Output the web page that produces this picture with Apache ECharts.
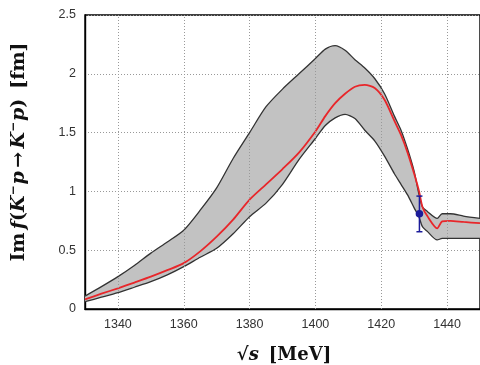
<!DOCTYPE html>
<html><head><meta charset="utf-8">
<script src="https://cdn.jsdelivr.net/npm/echarts@6/dist/echarts.min.js"></script>
<style>html,body{margin:0;padding:0;background:#fff}#c{width:480px;height:365px}</style>
</head><body><div id="c"></div>
<script>
const xs      = [1330,1335,1340,1345,1350,1355,1360,1365,1370,1375,1380,1385,1390,1395,1400,1403,1406,1409,1412,1415,1418,1421,1424,1426,1428,1430,1431.5,1432.5,1434,1437,1438.5,1441,1445,1450];
const upper   = [0.11,0.19,0.275,0.37,0.475,0.57,0.67,0.84,1.03,1.28,1.50,1.72,1.87,2.0,2.13,2.21,2.24,2.20,2.12,2.05,1.96,1.83,1.64,1.52,1.36,1.17,0.97,0.87,0.83,0.77,0.81,0.81,0.79,0.77];
const central = [0.082,0.13,0.176,0.225,0.275,0.33,0.39,0.49,0.615,0.76,0.93,1.06,1.19,1.33,1.51,1.64,1.75,1.83,1.89,1.905,1.88,1.78,1.60,1.48,1.33,1.15,1.0,0.87,0.79,0.686,0.745,0.75,0.74,0.73];
const lower   = [0.062,0.10,0.139,0.185,0.232,0.29,0.36,0.44,0.516,0.64,0.785,0.90,1.06,1.27,1.45,1.56,1.625,1.655,1.62,1.52,1.43,1.30,1.15,1.06,0.97,0.86,0.78,0.70,0.66,0.587,0.60,0.60,0.60,0.60];
const expPoint = [1431.6, 0.81, 0.657, 0.96]; // x, y, low, high
const xTicks = [1340,1360,1380,1400,1420,1440];

const pairs = arr => xs.map((x,i)=>[x,arr[i]]);
const chart = echarts.init(document.getElementById('c'));
const serif = '"DejaVu Serif", "Liberation Serif", serif';
const gridLine = {color:'#999',type:[1,2],width:1};
chart.setOption({
  animation:false,
  grid:{left:85,top:15,bottom:56,right:-5,show:true,borderColor:'#000',borderWidth:1.4,backgroundColor:'transparent'},
  xAxis:{type:'value',min:1330,max:1450,interval:10,
    axisLine:{show:true,lineStyle:{color:'#000',width:1.4}},
    axisTick:{show:false},
    splitLine:{show:false},
    axisLabel:{color:'#333',fontSize:12.5,fontFamily:'"Liberation Sans", Arial, sans-serif',margin:9,showMaxLabel:false,
      formatter:v=> xTicks.includes(Math.round(v))? String(Math.round(v)):''}},
  yAxis:{type:'value',min:0,max:2.5,interval:0.5,
    axisLine:{show:true,lineStyle:{color:'#000',width:1.4}},
    axisTick:{show:false},
    splitLine:{show:true,lineStyle:gridLine},
    axisLabel:{color:'#333',fontSize:12.5,fontFamily:'"Liberation Sans", Arial, sans-serif',margin:9,
      formatter:v=> String(v)}},
  graphic:[
    {type:'text',x:19,y:152,rotation:Math.PI/2,z:10,
     style:{text:'{b|Im} {i|f}{b|(}{i|K}{s|−}{i|p} {b|→} {i|K}{s|−}{i|p}{b|)}   {b|[fm]}',
       x:0,y:0,align:'center',verticalAlign:'middle',
       rich:{b:{fontFamily:serif,fontWeight:'bold',fontSize:19,fill:'#111'},
             i:{fontFamily:serif,fontWeight:'bold',fontStyle:'italic',fontSize:19,fill:'#111'},
             s:{fontFamily:serif,fontWeight:'bold',fontSize:12,fill:'#111',verticalAlign:'top',padding:[0,1,10,0]}}}},
    {type:'text',x:284,y:355,z:10,
     style:{text:'{b|√}{i|s}   {b|[MeV]}',x:0,y:0,align:'center',verticalAlign:'middle',
       rich:{b:{fontFamily:serif,fontWeight:'bold',fontSize:18,fill:'#111'},
             i:{fontFamily:serif,fontWeight:'bold',fontStyle:'italic',fontSize:18,fill:'#111'}}}}
  ],
  series:[
    {type:'line',data:[],z:0,silent:true,
     markLine:{silent:true,symbol:'none',label:{show:false},lineStyle:gridLine,animation:false,
       data:xTicks.map(x=>({xAxis:x}))}},
    {type:'custom',coordinateSystem:'cartesian2d',clip:true,data:[[xs[0],upper[0]]],z:1,silent:true,
     renderItem:(params,api)=>{
       const pts=[];
       for(let i=0;i<xs.length;i++) pts.push(api.coord([xs[i],upper[i]]));
       for(let i=xs.length-1;i>=0;i--) pts.push(api.coord([xs[i],lower[i]]));
       return {type:'polygon',shape:{points:pts},style:{fill:'#c2c2c2',stroke:null}};
     }},
    {type:'line',data:pairs(upper),showSymbol:false,smooth:0.25,z:3,lineStyle:{color:'#333',width:1.3}},
    {type:'line',data:pairs(lower),showSymbol:false,smooth:0.25,z:3,lineStyle:{color:'#333',width:1.3}},
    {type:'line',data:pairs(central),showSymbol:false,smooth:0.25,z:4,lineStyle:{color:'#e8262a',width:1.8}},
    {type:'custom',coordinateSystem:'cartesian2d',data:[expPoint],z:6,
     renderItem:(params,api)=>{
       const lo=api.coord([api.value(0),api.value(2)]);
       const hi=api.coord([api.value(0),api.value(3)]);
       const c=api.coord([api.value(0),api.value(1)]);
       const st={stroke:'#1c1c9a',lineWidth:1.5};
       return {type:'group',children:[
         {type:'line',shape:{x1:lo[0],y1:lo[1],x2:hi[0],y2:hi[1]},style:st},
         {type:'line',shape:{x1:lo[0]-3,y1:lo[1],x2:lo[0]+3,y2:lo[1]},style:st},
         {type:'line',shape:{x1:hi[0]-3,y1:hi[1],x2:hi[0]+3,y2:hi[1]},style:st},
         {type:'circle',shape:{cx:c[0],cy:c[1],r:3.8},style:{fill:'#1c1c9a'}}
       ]};
     }}
  ]
});
</script></body></html>
